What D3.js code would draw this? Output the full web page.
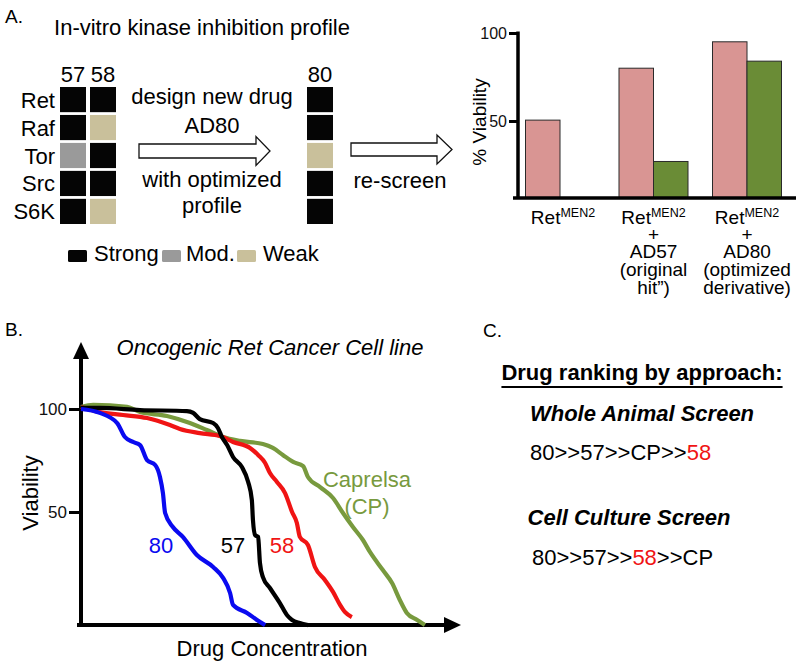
<!DOCTYPE html>
<html><head><meta charset="utf-8">
<script src="https://cdn.jsdelivr.net/npm/d3@7"></script>
<style>
html,body{margin:0;padding:0;background:#fff;}
svg{display:block;font-family:"Liberation Sans",Arial,Helvetica,sans-serif;}
</style></head>
<body>
<svg id="fig" width="800" height="665"></svg>
<script>
// ---------------- DATA ----------------
// Panel A: kinase inhibition profile
const kinases = ["Ret", "Raf", "Tor", "Src", "S6K"];
const compounds = ["57", "58", "80"];
const profile57 = ["Strong", "Strong", "Mod.", "Strong", "Strong"];
const profile58 = ["Strong", "Weak", "Strong", "Strong", "Weak"];
const profile80 = ["Strong", "Strong", "Weak", "Strong", "Strong"];
const levels = ["Strong", "Mod.", "Weak"];

// Panel A: viability bars
const barCategories = ["RetMEN2", "RetMEN2+AD57", "RetMEN2+AD80"];
const barLabels = [
  ["Ret|MEN2"],
  ["Ret|MEN2", "+", "AD57", "(original", "hit\u201d)"],
  ["Ret|MEN2", "+", "AD80", "(optimized", "derivative)"]
];
const pinkValues = [50.5, 80, 95];
const greenValues = [null, 27, 84];
const barTicks = [50, 100];

// Panel B: dose-response curves [concentration (rel.), viability]
const curve80 = [[0,100],[5.1,98.1],[9.8,93.2],[11.9,86.4],[14.1,84.0],[16.0,82.5],[17.9,75.2],[20.1,72.8],[21.4,67.0],[22.2,59.2],[22.8,49.5],[24.9,42.7],[27.6,37.9],[31.4,29.1],[35.8,23.3],[38.5,18.0],[40.4,10.7],[41.2,4.9],[45.0,1.0],[47.7,-2.4],[49.9,-4.9]];
const curve57 = [[0,100.5],[5.1,100.5],[16.0,99.5],[28.7,99.0],[30.4,98.1],[32.2,95.1],[35.8,93.2],[37.1,90.8],[38.2,86.4],[39.6,82.5],[41.2,76.7],[43.6,71.8],[45.3,64.6],[46.3,55.8],[46.6,46.1],[47.2,38.8],[48.0,37.9],[48.5,25.2],[49.3,18.4],[51.2,13.1],[53.9,5.8],[55.8,0],[57.2,-2.4],[59.3,-3.9],[61.5,-4.9]];
const curve58 = [[0,101],[5.1,98.5],[11.4,97.1],[17.9,95.6],[24.1,92.2],[26.8,90.3],[32.2,88.3],[37.7,86.9],[41.2,84.0],[45.8,81.1],[48.0,77.7],[49.9,73.8],[51.2,68.9],[53.1,64.6],[55.3,59.2],[57.2,50.0],[58.5,44.7],[59.3,37.9],[61.5,34.0],[63.4,23.3],[66.1,17.0],[68.3,11.2],[70.2,4.9],[71.5,1.5],[73.4,-1.0]];
const curveCP = [[0,101],[3.3,102],[12.5,101],[16.0,98.5],[23.3,96.6],[28.7,93.7],[34.1,89.8],[38.5,86.4],[43.1,84.5],[49.3,83.0],[52.0,81.1],[54.7,77.7],[57.5,74.3],[60.2,72.3],[61.5,67.0],[64.8,62.1],[68.3,56.8],[71.0,49.5],[73.7,42.7],[76.4,36.4],[78.3,30.6],[81.8,21.8],[84.3,15.5],[86.4,7.3],[88.3,1.0],[91.1,-2.4],[93.2,-4.9]];
const curveNames = ["80", "57", "58", "Caprelsa"];
const viabilityTicks = [50, 100];

// Panel C
const rankHeader = "Drug ranking by approach:";
const animalTitle = "Whole Animal Screen";
const animalRank = ["80", ">>", "57", ">>", "CP", ">>", "58"];
const cultureTitle = "Cell Culture Screen";
const cultureRank = ["80", ">>", "57", ">>", "58", ">>", "CP"];

// ---------------- DRAW ----------------
const svg = d3.select("#fig");
const FONT = 22;

// Panel letters
svg.append("text").attr("x", 5).attr("y", 23).attr("font-size", 19).text("A.");
svg.append("text").attr("x", 5).attr("y", 336).attr("font-size", 19).text("B.");
svg.append("text").attr("x", 483).attr("y", 337).attr("font-size", 19).text("C.");

// ===== Panel A: heat map =====
svg.append("text").attr("x", 202).attr("y", 35).attr("text-anchor", "middle")
  .attr("font-size", FONT).text("In-vitro kinase inhibition profile");

const levelColor = d3.scaleOrdinal().domain(levels).range(["#050505", "#9a9a9a", "#c9c09b"]);
const rowY = d3.scaleBand().domain(kinases).range([87, 224]).paddingInner(0.1);
const colX = d3.scaleOrdinal().domain(compounds).range([60, 90, 307]);
const cellW = 26;
const profiles = {"57": profile57, "58": profile58, "80": profile80};

compounds.forEach(c => {
  const g = svg.append("g");
  g.selectAll("rect").data(kinases).join("rect")
    .attr("x", colX(c)).attr("y", k => rowY(k))
    .attr("width", cellW).attr("height", rowY.bandwidth())
    .attr("fill", (k, i) => levelColor(profiles[c][i]));
  svg.append("text").attr("x", colX(c) + cellW / 2).attr("y", 82)
    .attr("text-anchor", "middle").attr("font-size", FONT).text(c);
});
svg.append("g").selectAll("text").data(kinases).join("text")
  .attr("x", 55).attr("y", k => rowY(k) + rowY.bandwidth() / 2 + 8)
  .attr("text-anchor", "end").attr("font-size", FONT).text(k => k);

// legend
const legX = d3.scaleOrdinal().domain(levels).range([68, 162, 237]);
levels.forEach(l => {
  svg.append("rect").attr("x", legX(l)).attr("y", 250).attr("width", 19).attr("height", 12)
    .attr("rx", 1.5).attr("fill", levelColor(l));
  svg.append("text").attr("x", legX(l) + (l === "Mod." ? 24 : 26)).attr("y", 261)
    .attr("font-size", FONT).text(l);
});

// hollow arrows
function hollowArrow(x0, x1, headX, yc, bodyH, headH) {
  const p = d3.path();
  p.moveTo(x0, yc - bodyH / 2);
  p.lineTo(headX, yc - bodyH / 2);
  p.lineTo(headX, yc - headH / 2);
  p.lineTo(x1, yc);
  p.lineTo(headX, yc + headH / 2);
  p.lineTo(headX, yc + bodyH / 2);
  p.lineTo(x0, yc + bodyH / 2);
  p.closePath();
  svg.append("path").attr("d", p.toString()).attr("fill", "#fff")
    .attr("stroke", "#111").attr("stroke-width", 1.3);
}
hollowArrow(139, 270, 256, 151, 14, 29);
hollowArrow(351, 452, 437, 149.5, 13, 29);

[["design new drug", 104], ["AD80", 133], ["with optimized", 187], ["profile", 213]].forEach(([t, y]) => {
  svg.append("text").attr("x", 212).attr("y", y).attr("text-anchor", "middle")
    .attr("font-size", FONT).text(t);
});
svg.append("text").attr("x", 400).attr("y", 188).attr("text-anchor", "middle")
  .attr("font-size", FONT).text("re-screen");

// ===== Panel A: bar chart =====
const yBar = d3.scaleLinear().domain([0, 100]).range([209, 33]);
const xBar = d3.scalePoint().domain(barCategories).range([560, 747]);
const barBase = 198;
const barW = 34.5;

const pinkRows = barCategories.map((c, i) => ({cat: c, v: pinkValues[i]})).filter(d => d.v != null);
const greenRows = barCategories.map((c, i) => ({cat: c, v: greenValues[i]})).filter(d => d.v != null);

const bars = svg.append("g");
bars.selectAll("rect.pink").data(pinkRows).join("rect").attr("class", "pink")
  .attr("x", d => xBar(d.cat) - barW).attr("y", d => yBar(d.v))
  .attr("width", barW).attr("height", d => barBase - yBar(d.v))
  .attr("fill", "#d99593").attr("stroke", "#2a2a2a").attr("stroke-width", 1);
bars.selectAll("rect.green").data(greenRows).join("rect").attr("class", "green")
  .attr("x", d => xBar(d.cat)).attr("y", d => yBar(d.v))
  .attr("width", barW).attr("height", d => barBase - yBar(d.v))
  .attr("fill", "#6a8c36").attr("stroke", "#2a2a2a").attr("stroke-width", 1);

const yBarAxis = svg.append("g").attr("transform", "translate(518,0)")
  .call(d3.axisLeft(yBar).tickValues(barTicks).tickSize(9).tickPadding(2));
yBarAxis.select(".domain").remove();
yBarAxis.selectAll("line").attr("stroke", "#000").attr("stroke-width", 3);
yBarAxis.selectAll("text").attr("font-size", 16).attr("font-family", "Liberation Sans, Arial, sans-serif").attr("fill", "#111");
svg.append("line").attr("x1", 518).attr("x2", 518).attr("y1", yBar(100) - 1.5).attr("y2", barBase)
  .attr("stroke", "#000").attr("stroke-width", 3.5);
svg.append("line").attr("x1", 513).attr("x2", 796).attr("y1", barBase).attr("y2", barBase)
  .attr("stroke", "#000").attr("stroke-width", 3.5);

svg.append("text").attr("transform", "translate(486,122) rotate(-90)")
  .attr("text-anchor", "middle").attr("font-size", 19).text("% Viability");

const labelBaselines = [224, 241, 258, 276, 294];
barLabels.forEach((lines, i) => {
  const cx = xBar(barCategories[i]) + (i === 0 ? 3 : 0);
  lines.forEach((ln, j) => {
    const t = svg.append("text").attr("x", cx).attr("y", labelBaselines[j])
      .attr("text-anchor", "middle").attr("font-size", 19);
    if (ln.includes("|")) {
      const [base, sup] = ln.split("|");
      t.append("tspan").text(base);
      t.append("tspan").attr("font-size", 12.5).attr("dy", -7).text(sup);
    } else {
      t.text(ln);
    }
  });
});

// ===== Panel B: dose response =====
const xB = d3.scaleLinear().domain([0, 100]).range([81, 450]);
const yB = d3.scaleLinear().domain([0, 100]).range([615, 409]);
const axisY = yB(-4.9);

svg.append("text").attr("x", 270).attr("y", 355).attr("text-anchor", "middle")
  .attr("font-size", FONT).attr("font-style", "italic").text("Oncogenic Ret Cancer Cell line");

// axes with arrowheads
svg.append("line").attr("x1", xB(0)).attr("x2", xB(0)).attr("y1", axisY + 2).attr("y2", 356)
  .attr("stroke", "#000").attr("stroke-width", 4);
svg.append("path").attr("d", `M${xB(0)},342 L${xB(0) + 8},359 L${xB(0) - 8},359 Z`).attr("fill", "#000");
svg.append("line").attr("x1", 77).attr("x2", 447).attr("y1", axisY).attr("y2", axisY)
  .attr("stroke", "#000").attr("stroke-width", 4);
svg.append("path").attr("d", `M461,${axisY} L444,${axisY - 8} L444,${axisY + 8} Z`).attr("fill", "#000");

const yBAxis = svg.append("g").attr("transform", `translate(${xB(0)},0)`)
  .call(d3.axisLeft(yB).tickValues(viabilityTicks).tickSize(12).tickPadding(2));
yBAxis.select(".domain").remove();
yBAxis.selectAll("line").attr("stroke", "#000").attr("stroke-width", 3);
yBAxis.selectAll("text").attr("font-size", 17).attr("font-family", "Liberation Sans, Arial, sans-serif").attr("fill", "#111");

svg.append("text").attr("transform", "translate(38,493) rotate(-90)")
  .attr("text-anchor", "middle").attr("font-size", FONT).text("Viability");
svg.append("text").attr("x", 272).attr("y", 656).attr("text-anchor", "middle")
  .attr("font-size", FONT).text("Drug Concentration");

const line = d3.line().x(d => xB(d[0])).y(d => yB(d[1])).curve(d3.curveMonotoneX);
const curveData = [curveCP, curve58, curve57, curve80];
const curveColors = ["#789a3e", "#f01414", "#000000", "#0a0af0"];
svg.append("g").selectAll("path").data(curveData).join("path")
  .attr("d", line).attr("fill", "none")
  .attr("stroke", (d, i) => curveColors[i]).attr("stroke-width", 4.2)
  .attr("stroke-linejoin", "round").attr("stroke-linecap", "butt");

const curveLabelPos = [[161, 553, "#0a0af0", "80"], [233, 553, "#000", "57"], [282, 553, "#f01414", "58"]];
curveLabelPos.forEach(([x, y, c, t]) => {
  svg.append("text").attr("x", x).attr("y", y).attr("text-anchor", "middle")
    .attr("font-size", FONT).attr("fill", c).text(t);
});
svg.append("text").attr("x", 367).attr("y", 487).attr("text-anchor", "middle")
  .attr("font-size", FONT).attr("fill", "#789a3e").text(curveNames[3]);
svg.append("text").attr("x", 367).attr("y", 514).attr("text-anchor", "middle")
  .attr("font-size", FONT).attr("fill", "#789a3e").text("(CP)");

// ===== Panel C =====
const hdr = svg.append("text").attr("x", 642).attr("y", 380).attr("text-anchor", "middle")
  .attr("font-size", FONT).attr("font-weight", "bold").text(rankHeader);
const hw = hdr.node().getComputedTextLength();
svg.append("line").attr("x1", 642 - hw / 2).attr("x2", 642 + hw / 2).attr("y1", 387).attr("y2", 387)
  .attr("stroke", "#000").attr("stroke-width", 2);

svg.append("text").attr("x", 642).attr("y", 421).attr("text-anchor", "middle")
  .attr("font-size", FONT).attr("font-weight", "bold").attr("font-style", "italic").text(animalTitle);
svg.append("text").attr("x", 629).attr("y", 525).attr("text-anchor", "middle")
  .attr("font-size", FONT).attr("font-weight", "bold").attr("font-style", "italic").text(cultureTitle);

function rankLine(parts, x, y) {
  const t = svg.append("text").attr("x", x).attr("y", y).attr("font-size", FONT);
  parts.forEach(p => t.append("tspan").attr("fill", p === "58" ? "#f01414" : "#000").text(p));
}
rankLine(animalRank, 530, 460);
rankLine(cultureRank, 532, 565);
</script>
</body></html>
